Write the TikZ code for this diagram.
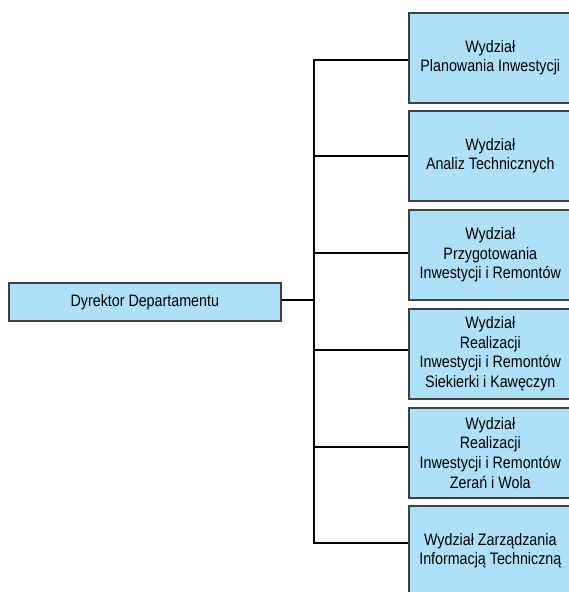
\documentclass[tikz,border=0pt]{standalone}
\usepackage{fontspec}
\setmainfont{Liberation Sans}[FakeStretch=0.86]
\begin{document}
\begin{tikzpicture}[x=1pt,y=-1pt,
  unit/.style={draw=black!75, line width=1.6pt, fill=boxblue, anchor=north west,
    minimum width=163pt, minimum height=90pt, inner sep=0pt, align=center,
    font=\fontsize{16.6}{19.8}\selectfont},
  dir/.style={draw=black!75, line width=1.6pt, fill=boxblue, anchor=north west,
    minimum width=272pt, minimum height=38pt, inner sep=0pt,
    font=\fontsize{16.6}{19.8}\selectfont},
  link/.style={draw=black, line width=2.8pt}]
\definecolor{boxblue}{HTML}{AEE0FA}
\useasboundingbox (0,0) rectangle (569,592);
\clip (0,0) rectangle (569,592);
\node[dir] (d) at (8,282) {Dyrektor Departamentu};
\node[unit] (b1) at (408,12) {Wydział\\Planowania Inwestycji};
\node[unit] (b2) at (408,110) {Wydział\\Analiz Technicznych};
\node[unit] (b3) at (408,209) {Wydział\\Przygotowania\\Inwestycji i Remontów};
\node[unit] (b4) at (408,308) {Wydział\\Realizacji\\Inwestycji i Remontów\\Siekierki i Kawęczyn};
\node[unit] (b5) at (408,407) {Wydział\\Realizacji\\Inwestycji i Remontów\\Zerań i Wola};
\node[unit] (b6) at (408,505) {Wydział Zarządzania\\Informacją Techniczną};
\coordinate (t1) at (314,60);
\coordinate (t2) at (314,156);
\coordinate (t3) at (314,253);
\coordinate (t4) at (314,350);
\coordinate (t5) at (314,447);
\coordinate (t6) at (314,543);
\coordinate (td) at (314,300);
\draw[link] (b1.west |- t1) -- (t1) -- (t6) -- (b6.west |- t6);
\draw[link] (t2) -- (b2.west |- t2);
\draw[link] (t3) -- (b3.west |- t3);
\draw[link] (t4) -- (b4.west |- t4);
\draw[link] (t5) -- (b5.west |- t5);
\draw[link] (d.east |- td) -- (td);
\end{tikzpicture}
\end{document}
